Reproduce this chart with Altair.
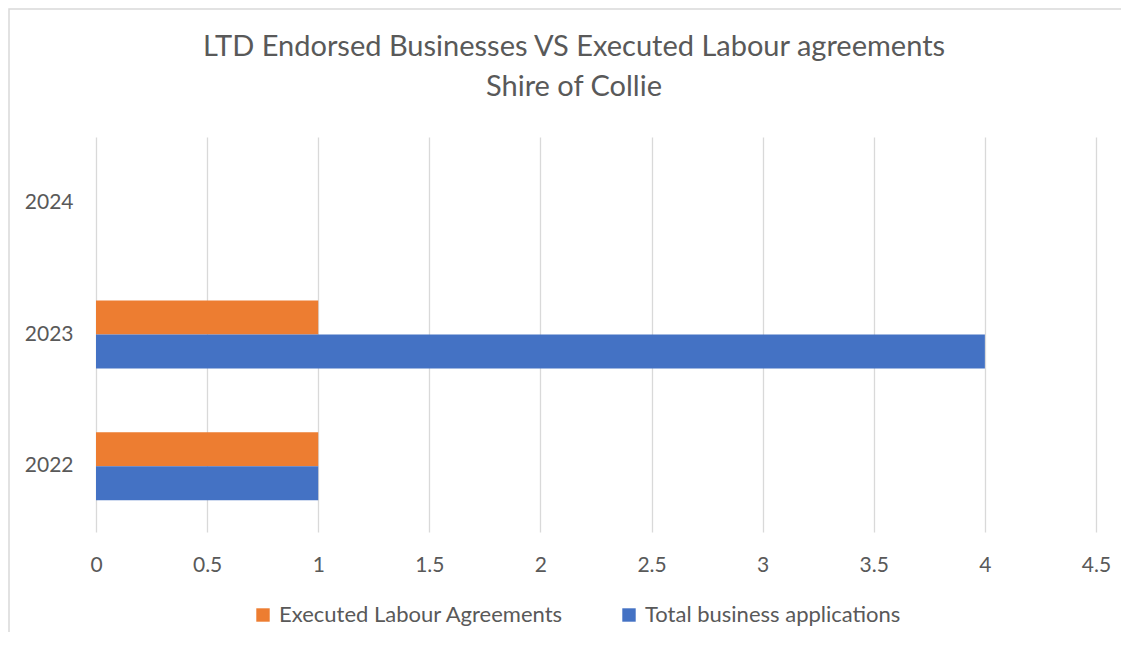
import altair as alt
import pandas as pd

years = ["2022", "2023", "2024"]
executed = [1, 1, 0]
total = [1, 4, 0]
series = ["Executed Labour Agreements", "Total business applications"]
colors = ["#ED7D31", "#4472C4"]
x_ticks = [0, 0.5, 1, 1.5, 2, 2.5, 3, 3.5, 4, 4.5]
title_lines = ["LTD Endorsed Businesses VS Executed Labour agreements", "Shire of Collie"]

rows = []
for yr, e, t in zip(years, executed, total):
    rows.append({"year": yr, "series": series[0], "value": e})
    rows.append({"year": yr, "series": series[1], "value": t})
df = pd.DataFrame(rows)

FONT = "Lato"
TXT = "#595959"

bars = alt.Chart(df).mark_bar().encode(
    x=alt.X("value:Q",
            scale=alt.Scale(domain=[0, 4.5], nice=False),
            axis=alt.Axis(values=x_ticks, title=None, grid=True, domain=False, ticks=False,
                          format="~g", labelFlush=False, labelPadding=22,
                          labelFontSize=21, labelColor=TXT, labelFont=FONT,
                          gridColor="#d9d9d9", gridWidth=1.3)),
    y=alt.Y("year:N", sort=years[::-1],
            scale=alt.Scale(paddingInner=0.484, paddingOuter=0.242),
            axis=alt.Axis(title=None, domain=False, ticks=False, grid=False,
                          labelPadding=23, labelFontSize=21, labelColor=TXT, labelFont=FONT)),
    yOffset=alt.YOffset("series:N", sort=series),
    color=alt.Color("series:N",
                    scale=alt.Scale(domain=series, range=colors),
                    legend=alt.Legend(orient="none", legendX=156, legendY=467,
                                      direction="horizontal", title=None,
                                      symbolType="square", symbolSize=180,
                                      symbolStrokeWidth=0, labelFontSize=22,
                                      labelColor=TXT, labelFont=FONT,
                                      columnPadding=54, labelLimit=500, labelOffset=5)),
)

border = alt.Chart(pd.DataFrame({"a": [0]})).mark_rect(
    fill="white", fillOpacity=0, stroke="#d9d9d9", strokeWidth=1.5
).encode(x=alt.value(-87), x2=alt.value(1300), y=alt.value(-128), y2=alt.value(800))


def title_layer(text, ypos):
    return alt.Chart(pd.DataFrame({"t": [text]})).mark_text(
        font=FONT, fontSize=29, color=TXT, align="center", baseline="middle"
    ).encode(text="t:N", x=alt.value(478), y=alt.value(ypos))


t1 = title_layer(title_lines[0], -90)
t2 = title_layer(title_lines[1], -50)

chart = alt.layer(border, bars, t1, t2).properties(
    width=1000,
    height=395,
    padding={"left": 88, "top": 129, "right": 25, "bottom": 100},
    autosize=alt.AutoSizeParams(type="none"),
).configure_view(strokeWidth=0)

chart.save("out.html", embed_options={"renderer": "svg", "actions": False})
